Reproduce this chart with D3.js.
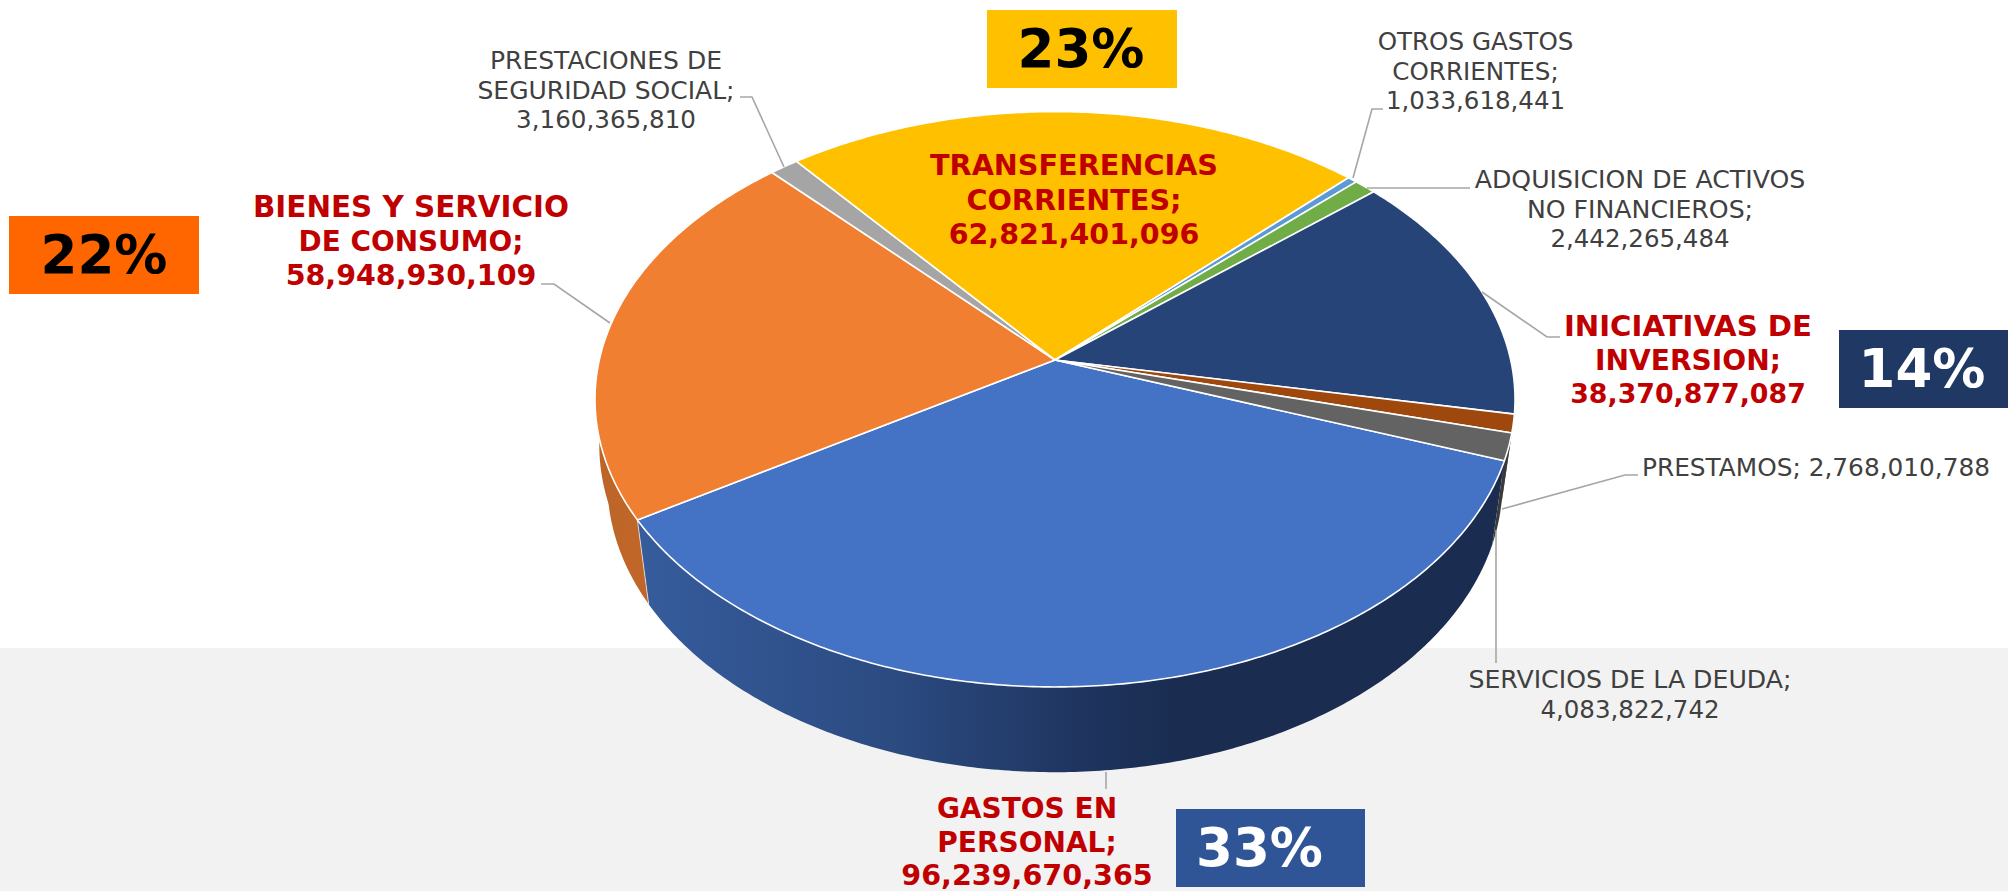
<!DOCTYPE html>
<html><head><meta charset="utf-8">
<script src="https://cdn.jsdelivr.net/npm/d3@7"></script>
<style>html,body{margin:0;padding:0;background:#fff;overflow:hidden}svg{display:block}text{font-family:"DejaVu Sans",Verdana,sans-serif}</style>
</head><body>
<script>
// ---- data, clockwise from the GASTOS slice ----
const categories = ["GASTOS EN PERSONAL","BIENES Y SERVICIO DE CONSUMO","PRESTACIONES DE SEGURIDAD SOCIAL","TRANSFERENCIAS CORRIENTES","OTROS GASTOS CORRIENTES","ADQUISICION DE ACTIVOS NO FINANCIEROS","INICIATIVAS DE INVERSION","PRESTAMOS","SERVICIOS DE LA DEUDA"];
const values = [96239670365,58948930109,3160365810,62821401096,1033618441,2442265484,38370877087,2768010788,4083822742];
const topColors = ["#4472c4","#f07f31","#a5a5a5","#ffc000","#5b9bd5","#70ad47","#264478","#9e480e","#636363"];
const wallColors = ["url(#wallBlue)","url(#wallOrange)","#7c7c7c","#bf9000","#44749f","#548235","#1c3359","#763608","#3a3a3a"];
const percentLabels = ["33%","22%","23%","14%"];

// ---- layout ----
const W = 2008, H = 891;
const startDeg = 109.9;
const apex = {x:1055, y:360}, R = 455.7, S = 282.3, k = 0.1365;
const floorY = 443.3, floorS = 284, floorScaleX = 0.973;

// text layout: lines per category, anchor x, first-baseline y, line step, font size of each line (last = value)
const labelLayout = [
 {lines:["GASTOS EN","PERSONAL;"],x:1027,y:818,step:33.5,bold:true,sizes:[28,28,28.6]},
 {lines:["BIENES Y SERVICIO","DE CONSUMO;"],x:411,y:217,step:33.8,bold:true,sizes:[29.4,27.9,28.5]},
 {lines:["PRESTACIONES DE","SEGURIDAD SOCIAL;"],x:606,y:69,step:29.5,sizes:[25,25,24.6]},
 {lines:["TRANSFERENCIAS","CORRIENTES;"],x:1074,y:175,step:34.5,bold:true,sizes:[28.7,28.7,28.5]},
 {lines:["OTROS GASTOS","CORRIENTES;"],x:1475.5,y:50,step:29.5,sizes:[24.6,24.6,24.5]},
 {lines:["ADQUISICION DE ACTIVOS","NO FINANCIEROS;"],x:1640,y:188,step:29.5,sizes:[25.2,25.2,24.5]},
 {lines:["INICIATIVAS DE","INVERSION;"],x:1688,y:336,step:33.5,bold:true,sizes:[29.2,28.1,26.8]},
 {lines:["PRESTAMOS; "],x:1642,y:476,step:0,inline:true,sizes:[24.8]},
 {lines:["SERVICIOS DE LA DEUDA;"],x:1630,y:688,step:29.5,sizes:[25.2,24.5]}
];
const leaders = [
 [[1106,772],[1106,789]],
 [[541,284],[554,284],[610,323]],
 [[740,97],[752,97],[784,167]],
 [],
 [[1383,109],[1372,109],[1353,178]],
 [[1367,188],[1470,188]],
 [[1482,292],[1547,337],[1560,337]],
 [[1502,509],[1625,475],[1638,475]],
 [[1496,530],[1496,663]]
];
const boxes = [
 {x:1176,y:809,w:189,h:78,fill:"#2f5597",text:"#fff",tx:1196,anchor:"start"},
 {x:9,y:216,w:190,h:78,fill:"#ff6600",text:"#000",tx:104,anchor:"middle"},
 {x:987,y:10,w:190,h:78,fill:"#ffc000",text:"#000",tx:1081,anchor:"middle"},
 {x:1839,y:330,w:169,h:78,fill:"#1f3864",text:"#fff",tx:1922,anchor:"middle"}
];

// ---- projection of the pie disc ----
function topPt(a){const u=Math.sin(a),v=-Math.cos(a),w=1-k*v;return [apex.x+R*u/w,apex.y+S*v/w];}
function floorPt(a){
  const u=Math.sin(a),v=-Math.cos(a),w=1-k*v;
  // the floor outline bulges slightly on the far left, where the wall emerges from the top face
  const deg=((a*180/Math.PI)%360+360)%360;
  const t=Math.max(0,Math.min(1,(deg-258)/12));
  const sx=floorScaleX+(1-floorScaleX)*(deg>200&&deg<330?t:0);
  return [apex.x+sx*R*u/w,floorY+floorS*v/w];
}

const svg = d3.select("body").append("svg").attr("width",W).attr("height",H);
const defs = svg.append("defs");
function grad(id,x1,x2,stops){
  const g=defs.append("linearGradient").attr("id",id).attr("gradientUnits","userSpaceOnUse")
    .attr("x1",x1).attr("x2",x2).attr("y1",0).attr("y2",0);
  stops.forEach(s=>g.append("stop").attr("offset",s[0]).attr("stop-color",s[1]));
}
grad("wallBlue",640,1510,[[0,"#365c9c"],[0.3,"#2b4a80"],[0.5,"#1f3560"],[0.62,"#1a2c50"],[1,"#1a2c4f"]]);
grad("wallOrange",600,650,[[0,"#bd6528"],[1,"#c06628"]]);

svg.append("rect").attr("width",W).attr("height",H).attr("fill","#fff");
svg.append("rect").attr("x",0).attr("y",648).attr("width",W).attr("height",H-648).attr("fill","#f2f2f2");

const pie = d3.pie().sort(null)
  .startAngle(startDeg*Math.PI/180).endAngle((startDeg+360)*Math.PI/180);
const arcs = pie(values);
const line = d3.line();
const color = d3.scaleOrdinal().domain(categories).range(topColors);
const wall = d3.scaleOrdinal().domain(categories).range(wallColors);

function samples(a0,a1){const n=Math.max(2,Math.ceil((a1-a0)/0.01));return d3.range(n+1).map(i=>a0+(a1-a0)*i/n);}

// side walls (painted under the top face)
svg.append("g").selectAll("path").data(arcs).join("path")
  .attr("d",d=>{const s=samples(d.startAngle,d.endAngle);
    return line(s.map(topPt).concat(s.slice().reverse().map(floorPt)))+"Z";})
  .attr("fill",(d,i)=>wall(categories[i]));

// pale seam between GASTOS and BIENES walls
svg.append("path").datum(arcs[0].endAngle)
  .attr("d",a=>line([topPt(a),floorPt(a)]))
  .attr("stroke","#fff").attr("stroke-opacity",.65).attr("stroke-width",1).attr("fill","none");

// top face
svg.append("g").selectAll("path").data(arcs).join("path")
  .attr("d",d=>line([[apex.x,apex.y]].concat(samples(d.startAngle,d.endAngle).map(topPt)))+"Z")
  .attr("fill",(d,i)=>color(categories[i]))
  .attr("stroke","#fff").attr("stroke-width",1.6).attr("stroke-linejoin","round");

// leader lines
svg.append("g").selectAll("path").data(leaders.filter(l=>l.length)).join("path")
  .attr("d",d=>line(d)).attr("fill","none").attr("stroke","#a6a6a6").attr("stroke-width",1.6);

// data labels
const fmt = d3.format(",");
const lab = svg.append("g").selectAll("text").data(labelLayout).join("text")
  .attr("text-anchor",d=>d.inline?"start":"middle")
  .attr("fill",d=>d.bold?"#c00000":"#404040")
  .attr("font-weight",d=>d.bold?"bold":"normal");
lab.each(function(d,i){
  const t=d3.select(this), val=fmt(values[i]);
  if(d.inline){ t.append("tspan").attr("x",d.x).attr("y",d.y).attr("font-size",d.sizes[0]).attr("xml:space","preserve").text(d.lines[0]+val); return; }
  const all=d.lines.concat([val]);
  all.forEach((s,j)=>t.append("tspan").attr("x",d.x).attr("y",d.y+j*d.step).attr("font-size",d.sizes[j]).text(s));
});

// percent boxes
const bx = svg.append("g").selectAll("g").data(boxes).join("g");
bx.append("rect").attr("x",d=>d.x).attr("y",d=>d.y).attr("width",d=>d.w).attr("height",d=>d.h).attr("fill",d=>d.fill);
bx.append("text").attr("x",d=>d.tx).attr("y",d=>d.y+57).attr("text-anchor",d=>d.anchor)
  .attr("font-size",53).attr("font-weight","bold").attr("fill",d=>d.text).text((d,i)=>percentLabels[i]);
</script>
</body></html>
